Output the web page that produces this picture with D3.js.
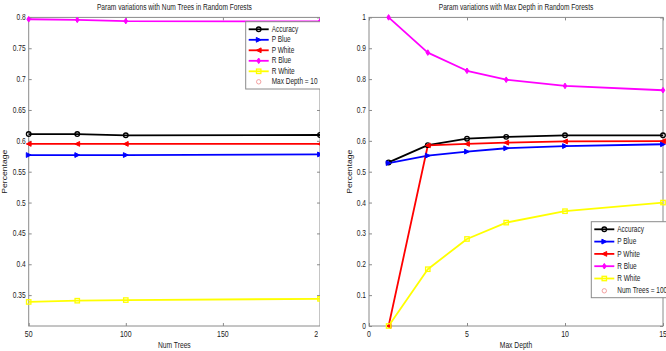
<!DOCTYPE html>
<html><head><meta charset="utf-8">
<script src="https://cdn.jsdelivr.net/npm/d3@7"></script>
<style>
html,body{margin:0;padding:0;background:#fff;}
svg{display:block;}
text{font-family:"Liberation Sans",Arial,sans-serif;fill:#1a1a1a;}
</style></head>
<body>
<svg id="c" width="666" height="351"></svg>
<script>
// ---------- DATA ----------
const seriesNames = ["Accuracy","P Blue","P White","R Blue","R White"];
// Left: Num Trees
const numTrees = [50, 75, 100, 200];
const leftAccuracy = [0.611, 0.611, 0.609, 0.6095];
const leftPBlue    = [0.577, 0.577, 0.577, 0.578];
const leftPWhite   = [0.595, 0.595, 0.595, 0.595];
const leftRBlue    = [0.797, 0.796, 0.794, 0.7935];
const leftRWhite   = [0.339, 0.341, 0.342, 0.344];
const leftXTicks = [50, 100, 150, 200];
const leftYTicks = [0.35, 0.4, 0.45, 0.5, 0.55, 0.6, 0.65, 0.7, 0.75, 0.8];
const leftTitle = "Param variations with Num Trees in Random Forests";
const leftXLabel = "Num Trees";
const leftExtraLegend = "Max Depth = 10";
// Right: Max Depth
const maxDepth = [1, 3, 5, 7, 10, 15];
const rightAccuracy = [0.530, 0.586, 0.607, 0.613, 0.618, 0.618];
const rightPBlue    = [0.528, 0.552, 0.565, 0.576, 0.583, 0.589];
const rightPWhite   = [0.0, 0.585, 0.590, 0.594, 0.598, 0.599];
const rightRBlue    = [1.0, 0.886, 0.827, 0.798, 0.778, 0.764];
const rightRWhite   = [0.0, 0.184, 0.282, 0.335, 0.372, 0.400];
const rightXTicks = [0, 5, 10, 15];
const rightYTicks = [0, 0.1, 0.2, 0.3, 0.4, 0.5, 0.6, 0.7, 0.8, 0.9, 1];
const rightTitle = "Param variations with Max Depth in Random Forests";
const rightXLabel = "Max Depth";
const rightExtraLegend = "Num Trees = 100";
const yLabel = "Percentage";

// ---------- STYLE ----------
const colors = ["#000000","#0000ff","#ff0000","#ff00ff","#ffff00"];
const markers = ["circle","triR","triL","diamond","square"];
const axisColor = "#8a8a8a";

const svg = d3.select("#c");

function stext(g, x, y, str, size, sx, anchor){
  return g.append("text")
    .attr("transform", `translate(${x},${y}) scale(${sx},1)`)
    .attr("text-anchor", anchor || "middle")
    .style("font-size", size + "px")
    .text(str);
}

function drawMarker(g, type, x, y, color){
  const s = 2.4;
  if(type === "circle"){
    g.append("circle").attr("cx",x).attr("cy",y).attr("r",2.3)
      .attr("fill","none").attr("stroke",color).attr("stroke-width",1.3);
  } else if(type === "square"){
    g.append("rect").attr("x",x-2.2).attr("y",y-2.2).attr("width",4.4).attr("height",4.4)
      .attr("fill","none").attr("stroke",color).attr("stroke-width",1.3);
  } else {
    let pts;
    if(type === "triR") pts = [[x+s,y],[x-s,y-s],[x-s,y+s]];
    else if(type === "triL") pts = [[x-s,y],[x+s,y-s],[x+s,y+s]];
    else pts = [[x,y-s-0.4],[x+s-0.6,y],[x,y+s+0.4],[x-s+0.6,y]];
    g.append("polygon").attr("points", pts.map(p=>p.join(",")).join(" "))
      .attr("fill",color).attr("stroke",color).attr("stroke-width",1)
      .attr("stroke-linejoin","round");
  }
}

function panel(opts){
  const {id, x0, x1, y0, y1, xDomain, yDomain, xs, ys, xTicks, yTicks, xFmt, yFmt,
         title, xLabel, yLabelX, legend, clipRight, clipLabels} = opts;
  const g = svg.append("g");
  if(clipRight){
    svg.append("clipPath").attr("id","clip"+id).append("rect")
      .attr("x",0).attr("y",0).attr("width",clipRight).attr("height",351);
    g.attr("clip-path",`url(#clip${id})`);
  }
  const x = d3.scaleLinear().domain(xDomain).range([x0, x1]);
  const y = d3.scaleLinear().domain(yDomain).range([y1, y0]);

  // box
  g.append("rect").attr("x",x0).attr("y",y0).attr("width",x1-x0).attr("height",y1-y0)
    .attr("fill","#fff").attr("stroke",axisColor).attr("stroke-width",1);

  // ticks (inward) using axis generators
  const tl = 3;
  const ax = g.append("g").attr("transform",`translate(0,${y1})`)
    .call(d3.axisBottom(x).tickValues(xTicks).tickSize(-tl).tickPadding(0).tickFormat(""));
  const axT = g.append("g").attr("transform",`translate(0,${y0})`)
    .call(d3.axisTop(x).tickValues(xTicks).tickSize(-tl).tickFormat(""));
  const ay = g.append("g").attr("transform",`translate(${x0},0)`)
    .call(d3.axisLeft(y).tickValues(yTicks).tickSize(-tl).tickFormat(""));
  const ayR = g.append("g").attr("transform",`translate(${x1},0)`)
    .call(d3.axisRight(y).tickValues(yTicks).tickSize(-tl).tickFormat(""));
  [ax,axT,ay,ayR].forEach(a=>{
    a.select(".domain").remove();
    a.selectAll("line").attr("stroke",axisColor);
  });

  // tick labels
  const xl = g.append("g");
  if(clipLabels){
    svg.append("clipPath").attr("id","clipx"+id).append("rect")
      .attr("x",0).attr("y",0).attr("width",clipLabels).attr("height",351);
    xl.attr("clip-path",`url(#clipx${id})`);
  }
  xTicks.forEach(t=>stext(xl, x(t), y1+10.5, xFmt(t), 8.5, 0.82, "middle"));
  yTicks.forEach(t=>stext(g, x0-3, y(t)+3, yFmt(t), 8.3, 0.8, "end"));

  // lines
  const line = d3.line().x(d=>x(d[0])).y(d=>y(d[1]));
  ys.forEach((vals,i)=>{
    const pts = xs.map((xv,j)=>[xv, vals[j]]);
    g.append("path").datum(pts).attr("d",line).attr("fill","none")
      .attr("stroke",colors[i]).attr("stroke-width",1.8).attr("stroke-linejoin","round");
  });
  ys.forEach((vals,i)=>{
    xs.forEach((xv,j)=>drawMarker(g, markers[i], x(xv), y(vals[j]), colors[i]));
  });

  // title & labels
  stext(g, (x0+x1)/2, 10, title, 8.6, 0.77, "middle");
  stext(g, (x0+x1)/2, 348, xLabel, 8.5, 0.79, "middle");
  g.append("text")
    .attr("transform",`translate(${yLabelX},${(y0+y1)/2}) rotate(-90) scale(1,0.8)`)
    .attr("text-anchor","middle").style("font-size","8.6px").text(yLabel);

  // legend
  const L = legend;
  g.append("rect").attr("x",L.x).attr("y",L.y).attr("width",L.w).attr("height",L.h)
    .attr("fill","#fff").attr("stroke",axisColor).attr("stroke-width",1);
  seriesNames.forEach((name,i)=>{
    const yy = L.y + L.first + i*L.step;
    g.append("line").attr("x1",L.x+3).attr("x2",L.x+23).attr("y1",yy).attr("y2",yy)
      .attr("stroke",colors[i]).attr("stroke-width",1.8);
    drawMarker(g, markers[i], L.x+13, yy, colors[i]);
    stext(g, L.x+26, yy+2.6, name, 8.3, 0.78, "start");
  });
  const yy = L.y + L.first + 5*L.step;
  g.append("circle").attr("cx",L.x+13).attr("cy",yy).attr("r",2.2)
    .attr("fill","none").attr("stroke","#f4a0a0").attr("stroke-width",1);
  stext(g, L.x+26, yy+2.6, L.extra, 8.3, 0.78, "start");
}

const fmt = d=>d3.format("")(+d.toFixed(2));

panel({
  id:"L", x0:28.7, x1:320, y0:17.4, y1:326,
  xDomain:[50,200], yDomain:[0.3,0.8],
  xs:numTrees, ys:[leftAccuracy,leftPBlue,leftPWhite,leftRBlue,leftRWhite],
  xTicks:leftXTicks, yTicks:leftYTicks, xFmt:fmt, yFmt:fmt,
  title:leftTitle, xLabel:leftXLabel, yLabelX:7,
  legend:{x:245.7, y:21.7, w:80, h:67.3, first:7.6, step:10.5, extra:leftExtraLegend},
  clipRight:319.9, clipLabels:318
});
panel({
  id:"R", x0:369, x1:663, y0:17.4, y1:326,
  xDomain:[0,15], yDomain:[0,1],
  xs:maxDepth, ys:[rightAccuracy,rightPBlue,rightPWhite,rightRBlue,rightRWhite],
  xTicks:rightXTicks, yTicks:rightYTicks, xFmt:fmt, yFmt:fmt,
  title:rightTitle, xLabel:rightXLabel, yLabelX:352,
  legend:{x:591.3, y:221.7, w:90, h:76, first:7.6, step:12.3, extra:rightExtraLegend},
  clipRight:null, clipLabels:null
});
</script>
</body></html>
